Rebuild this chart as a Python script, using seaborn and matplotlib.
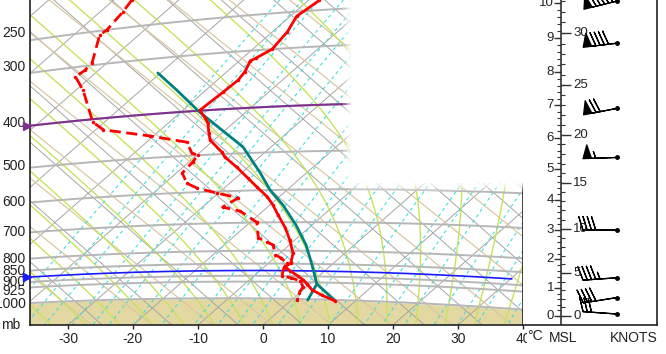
import numpy as np
import matplotlib
matplotlib.use("Agg")
import matplotlib.pyplot as plt
import seaborn as sns
from matplotlib.patches import Rectangle

# sounding (hPa, degC)
temp_p = [238, 256, 276, 300, 312, 316, 334, 347, 367, 399, 416, 427, 449, 465,
          495, 508, 535, 565, 591, 620, 645, 676, 719, 761, 809, 847, 863, 879,
          900, 916, 933, 958, 980, 1005]
temp_t = [-48.3, -49.0, -47.7, -47.0, -47.9, -48.3, -47.2, -46.8, -47.0, -47.4,
          -45.2, -43.9, -42.0, -40.6, -36.7, -35.3, -31.7, -28.1, -25.1, -21.8,
          -19.5, -17.0, -13.6, -10.8, -8.0, -6.6, -6.8, -5.3, -3.2, -1.7, -0.4,
          1.4, 3.8, 6.9]

dewp_p = [216, 229, 250, 256, 296, 307, 316, 341, 406, 425, 447, 467, 494, 500,
          517, 544, 573, 588, 605, 621, 648, 662, 699, 753, 768, 779, 816, 828,
          847, 867, 900, 908, 920, 946, 973, 1005]
dewp_t = [-77.2, -76.5, -75.8, -76.0, -72.3, -72.1, -72.4, -68.9, -61.8, -58.8,
          -50.6, -43.8, -41.1, -39.8, -39.4, -39.1, -36.6, -34.2, -30.2, -26.1,
          -26.9, -23.5, -19.0, -16.0, -14.0, -12.5, -10.4, -9.0, -7.2, -6.8,
          -5.7, -3.9, -2.0, -0.5, -0.1, 0.9]

parcel_p = [324, 357, 403, 444, 485, 552, 600, 645, 709, 779, 854, 932, 1005]
parcel_t = [-60.4, -54.5, -47.1, -40.5, -34.3, -27.1, -22.6, -18.0, -12.5, -7.4,
            -3.0, 1.1, 6.9]
branch_p = [932, 1004]
branch_t = [1.1, 2.5]

sfc_p = 1005
purple_p = 400
blue_p = 878
blue_tmax = 30.2

pressure_levels = [250, 300, 400, 500, 600, 700, 800, 850, 900, 925, 1000]
temp_ticks = [-30, -20, -10, 0, 10, 20, 30, 40]

# wind barbs: height (km MSL), direction (deg), speed (kt)
barb_km = [10.05, 8.85, 6.91, 5.38, 3.0, 1.36, 0.66, 0.07]
barb_dir = [256, 263, 259, 268, 270, 266, 261, 274]
barb_kt = [95, 90, 70, 55, 40, 45, 40, 30]

km_labels = list(range(0, 11))
kft_labels = [0, 5, 10, 15, 20, 25, 30]

# tephigram geometry
K = 262.0
KAPPA = 0.2857
XL, XR = -80.85, 70.84
YB, YT = -9.16, 104.9

# small vertical nudges (points) for the pressure labels
label_nudge = {250: 5, 300: 4, 400: 2, 500: 1, 925: -2.5, 1000: -1}


def tephi(t, p):
    t = np.asarray(t, float)
    p = np.asarray(p, float)
    b = K * np.log((t + 273.15) / 273.15) + K * KAPPA * np.log(1000.0 / p)
    return t + b, b - t


def dtdp(tk, p):
    tc = tk - 273.15
    es = 6.112 * np.exp(17.67 * tc / (tc + 243.5))
    rs = 0.622 * es / (p - es)
    num = 287.04 * tk + 2.501e6 * rs
    den = 1004.0 + 2.501e6 ** 2 * rs * 0.622 / (287.04 * tk ** 2)
    return num / den / p


def moist(thw, plist):
    tk = np.asarray(thw, float) + 273.15
    out = [tk.copy()]
    for p0, p1 in zip(plist[:-1], plist[1:]):
        dp = p1 - p0
        k1 = dtdp(tk, p0)
        k2 = dtdp(tk + k1 * dp, p1)
        tk = tk + 0.5 * (k1 + k2) * dp
        out.append(tk.copy())
    return np.array(out) - 273.15


def std_p(z_km):
    return 1013.25 * (1 - 2.25577e-5 * np.asarray(z_km, float) * 1000) ** 5.25588


sns.set_theme(style="white")
plt.rcParams['font.family'] = ['Liberation Sans', 'DejaVu Sans']

fig = plt.figure(figsize=(6.66, 3.54), dpi=100)
ax = fig.add_axes([30 / 666, 29 / 354, 493 / 666, 325 / 354])
ax.set_xlim(XL, XR)
ax.set_ylim(YB, YT)

pp = np.geomspace(1150, 150, 200)

# isotherms
for t in range(-110, 60, 10):
    x, y = tephi(t, pp)
    ax.plot(x, y, color='#a6a6a6', lw=0.7, zorder=1)

# dry adiabats
for th in range(200, 420, 10):
    tt = th * (pp / 1000.0) ** KAPPA - 273.15
    x, y = tephi(tt, pp)
    ax.plot(x, y, color='#a6a6a6', lw=0.7, zorder=1)

# tan lines
xx = np.array([XL - 5, XR + 5])
for c in np.arange(-100, 200, 17):
    ax.plot(xx, c - 0.92 * xx, color='#d9c9a3', lw=0.9, zorder=1)

# moist adiabats
thw = np.arange(-40, 45, 5)
p_up = np.linspace(1000, 150, 300)
p_dn = np.linspace(1000, 1150, 40)
t_up = moist(thw, p_up)
t_dn = moist(thw, p_dn)
for i in range(len(thw)):
    pm = np.concatenate([p_dn[::-1], p_up[1:]])
    tm = np.concatenate([t_dn[::-1, i], t_up[1:, i]])
    x, y = tephi(tm, pm)
    ax.plot(x, y, color='#c8e35a', lw=1.0, zorder=1)

# mixing ratio lines
for w in [0.1, 0.15, 0.2, 0.3, 0.4, 0.5, 0.7, 1, 1.5, 2, 2.5, 3, 4, 5, 7, 10,
          12, 15, 20, 25, 30, 40, 50, 60]:
    e = w / 1000 * pp / (0.622 + w / 1000)
    lg = np.log(e / 6.112)
    tw = 243.5 * lg / (17.67 - lg)
    x, y = tephi(tw, pp)
    ax.plot(x, y, color='#3fe0dc', lw=0.8, ls=(0, (3, 3)), zorder=1)

# isobars
tgrid = np.linspace(-130, 60, 300)
for p in pressure_levels:
    x, y = tephi(tgrid, p)
    ax.plot(x, y, color='#b7b7b7', lw=1.4, zorder=1.5)
    tl = np.interp(XL, x, tgrid)
    ax.annotate(str(p), (XL, XL - 2 * tl), xytext=(-3, label_nudge.get(p, 0)),
                textcoords='offset points', ha='right', va='center', fontsize=10,
                color='#222222', annotation_clip=False)

# ground
x, y = tephi(tgrid, sfc_p)
gx = np.concatenate([x, [x[-1], x[0]]])
gy = np.concatenate([y, [YB - 20, YB - 20]])
ax.fill(gx, gy, color='#e3d7a2', lw=0, zorder=0.5)

# purple and blue levels
for p, col, tmax, lw in [(purple_p, '#80308f', 60, 1.5), (blue_p, '#1a1aff', blue_tmax, 1.2)]:
    tt = np.linspace(-130, tmax, 200)
    x, y = tephi(tt, p)
    ax.plot(x, y, color=col, lw=lw, zorder=3)
    tl = np.interp(XL, x, tt)
    ax.plot([XL - 0.9], [XL - 2 * tl], marker='>', ms=6, color=col, clip_on=False, zorder=6)

# sounding
x, y = tephi(parcel_t, parcel_p)
sns.lineplot(x=x, y=y, sort=False, estimator=None, color='#008080', lw=2, ax=ax, zorder=4)
x, y = tephi(branch_t, branch_p)
sns.lineplot(x=x, y=y, sort=False, estimator=None, color='#008080', lw=2, ax=ax, zorder=4)
x, y = tephi(dewp_t, dewp_p)
sns.lineplot(x=x, y=y, sort=False, estimator=None, color='#ff0000', lw=2, ax=ax,
             linestyle=(0, (4, 2)), marker='o', ms=2.5, mew=0, zorder=5)
x, y = tephi(temp_t, temp_p)
sns.lineplot(x=x, y=y, sort=False, estimator=None, color='#ff0000', lw=2, ax=ax,
             marker='o', ms=2.5, mew=0, zorder=5)

ax.set_xticks([2 * t + YB for t in temp_ticks])
ax.set_xticklabels([str(t) for t in temp_ticks])
ax.set_yticks([])
ax.tick_params(axis='x', direction='out', length=3, width=1, labelsize=10, pad=2,
               colors='#222222', bottom=True)
ax.spines['top'].set_visible(False)
for s in ['left', 'bottom', 'right']:
    ax.spines[s].set_color('#222222')
    ax.spines[s].set_linewidth(1.2)

# right panel: altitude scale and winds
axr = fig.add_axes([523 / 666, 29 / 354, 134 / 666, 325 / 354])
axr.set_yscale('log')
axr.set_xlim(0, 134)
axr.set_ylim(1053.4, 261.2)
axr.set_xticks([])
axr.set_yticks([])
axr.minorticks_off()
axr.spines['top'].set_visible(False)
axr.spines['left'].set_visible(False)
for s in ['bottom', 'right']:
    axr.spines[s].set_color('#222222')
    axr.spines[s].set_linewidth(1.2)

axr.plot([38, 38], [1060, 250], color='#333333', lw=1.2)
km_minor = np.arange(0, 10.3, 0.2)
axr.hlines(std_p(km_minor), 34, 38, color='#333333', lw=0.8)
axr.hlines(std_p(km_labels), 31, 38, color='#333333', lw=1.0)
kft_minor = np.arange(0, 34, 1) * 0.3048
axr.hlines(std_p(kft_minor), 38, 42, color='#333333', lw=0.8)
axr.hlines(std_p(np.array(kft_labels) * 0.3048), 38, 48, color='#333333', lw=1.0)
for k in km_labels:
    axr.text(31, std_p(k), str(k), ha='right', va='center', fontsize=9.5, color='#222222')
for k in kft_labels:
    axr.text(50, std_p(k * 0.3048), str(k), ha='left', va='center', fontsize=9.5,
             color='#222222')

rad = np.deg2rad(barb_dir)
u = -np.array(barb_kt) * np.sin(rad)
v = -np.array(barb_kt) * np.cos(rad)
bp = std_p(barb_km)
axr.barbs(np.full(len(bp), 94.0), bp, u, v, length=7, color='black', lw=0.9)
axr.plot(np.full(len(bp), 94.0), bp, 'o', ms=2.5, color='black', lw=0)

# blanked box in the top right of the diagram
for i, a in enumerate([0.25, 0.5, 0.75]):
    fig.add_artist(Rectangle(((343 + 2.7 * i) / 666, 1 - 183 / 354), 2.7 / 666, 183 / 354,
                             transform=fig.transFigure, facecolor='white', alpha=a,
                             edgecolor='none', zorder=5))
    fig.add_artist(Rectangle((351 / 666, 1 - (191 - 2.7 * i) / 354), 176 / 666, 2.7 / 354,
                             transform=fig.transFigure, facecolor='white', alpha=a,
                             edgecolor='none', zorder=5))
fig.add_artist(Rectangle((351 / 666, 1 - 183 / 354), 176 / 666, 183 / 354,
                         transform=fig.transFigure, facecolor='white',
                         edgecolor='none', zorder=5))

fig.text(1 / 666, 1 - 325 / 354, 'mb', ha='left', va='center', fontsize=10, color='#222222')
fig.text(527 / 666, 1 - 336 / 354, '°C', ha='left', va='center', fontsize=10, color='#222222',
         bbox=dict(facecolor='white', edgecolor='none', pad=0), zorder=6)
fig.text(563 / 666, 1 - 338 / 354, 'MSL', ha='center', va='center', fontsize=10, color='#222222')
fig.text(634 / 666, 1 - 338 / 354, 'KNOTS', ha='center', va='center', fontsize=10,
         color='#222222')

fig.savefig('out.png', dpi=100)
